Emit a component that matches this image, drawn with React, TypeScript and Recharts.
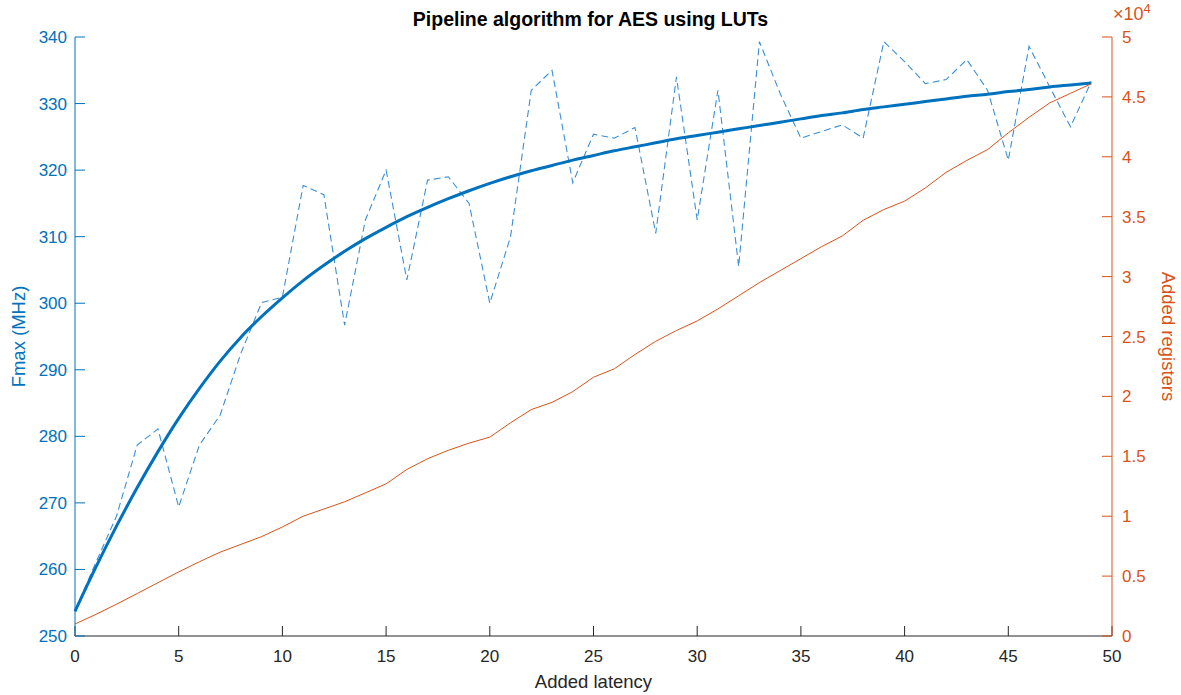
import React from 'react'
import { LineChart, Line, XAxis, YAxis, Label } from 'recharts'

// added latency (pipeline stages)
const latency = [
  0, 1, 2, 3, 4, 5, 6, 7, 8, 9, 10, 11, 12, 13, 14, 15, 16, 17, 18, 19, 20, 21, 22, 23, 24,
  25, 26, 27, 28, 29, 30, 31, 32, 33, 34, 35, 36, 37, 38, 39, 40, 41, 42, 43, 44, 45, 46, 47, 48, 49,
]

// measured Fmax (MHz)
const fmaxMeasured = [
  253.8, 261, 268, 278.7, 281.1, 269.4, 278.7, 283.2, 292.5, 300.1,
  300.9, 317.7, 316.3, 296.7, 312.5, 320, 303.5, 318.5, 319, 315,
  300, 310, 332, 335, 318.1, 325.4, 324.8, 326.4, 310.5, 334,
  312.5, 332, 305.5, 339.3, 331.5, 324.8, 325.8, 326.8, 324.8, 339.3,
  336.3, 333, 333.6, 336.6, 332, 321.5, 338.6, 332.5, 326.5, 333.3,
]

// fitted Fmax trend (MHz)
const fmaxFit = [
  253.7, 260.3, 266.5, 272.3, 277.7, 282.7, 287.2, 291.3, 294.9, 298.0,
  300.8, 303.4, 305.7, 307.8, 309.7, 311.4, 313.0, 314.4, 315.7, 316.9,
  318.0, 319.0, 319.9, 320.7, 321.5, 322.2, 322.9, 323.5, 324.1, 324.7,
  325.2, 325.7, 326.2, 326.7, 327.2, 327.7, 328.2, 328.6, 329.1, 329.5,
  329.9, 330.3, 330.7, 331.1, 331.4, 331.8, 332.1, 332.5, 332.8, 333.1,
]

// added registers
const registers = [
  1000, 1800, 2650, 3550, 4450, 5350, 6200, 7000, 7650, 8300,
  9100, 10000, 10600, 11200, 11950, 12700, 13900, 14800, 15500, 16100,
  16600, 17800, 18900, 19500, 20400, 21600, 22300, 23500, 24600, 25500,
  26300, 27300, 28400, 29500, 30500, 31500, 32500, 33400, 34700, 35600,
  36300, 37400, 38700, 39700, 40600, 42000, 43300, 44500, 45300, 46100,
]

const xTicks = [0, 5, 10, 15, 20, 25, 30, 35, 40, 45, 50]
const fmaxTicks = [250, 260, 270, 280, 290, 300, 310, 320, 330, 340]
const regTicks = [0, 5000, 10000, 15000, 20000, 25000, 30000, 35000, 40000, 45000, 50000]

const data = latency.map((x, i) => ({
  x,
  measured: fmaxMeasured[i],
  fit: fmaxFit[i],
  regs: registers[i],
}))

const BLUE = '#0072BD'
const ORANGE = '#D95319'
const DARK = '#262626'
const FONT = '"Liberation Sans", Arial, sans-serif'

export default function App() {
  return (
    <div style={{ position: 'absolute', left: 0, top: 0, width: 1181, height: 695, background: '#fff', fontFamily: FONT }}>
      <LineChart width={1181} height={695} data={data} margin={{ top: 37, right: 9, left: 15, bottom: 9 }}>
        <XAxis
          dataKey="x"
          type="number"
          domain={[0, 50]}
          ticks={xTicks}
          interval={0}
          height={50}
          stroke={DARK}
          tickSize={-10}
          tickMargin={24}
          tick={{ fill: DARK, fontSize: 17, fontFamily: FONT }}
        >
          <Label value="Added latency" position="insideBottom" offset={-2} fill={DARK} fontSize={18.5} fontFamily={FONT} />
        </XAxis>
        <YAxis
          yAxisId="left"
          orientation="left"
          domain={[250, 340]}
          ticks={fmaxTicks}
          interval={0}
          width={60}
          stroke={BLUE}
          tickSize={-10}
          tickMargin={18}
          tick={{ fill: BLUE, fontSize: 17, fontFamily: FONT }}
        >
          <Label value="Fmax (MHz)" angle={-90} position="insideLeft" offset={3} fill={BLUE} fontSize={18.5} fontFamily={FONT} style={{ textAnchor: 'middle' }} />
        </YAxis>
        <YAxis
          yAxisId="right"
          orientation="right"
          domain={[0, 50000]}
          ticks={regTicks}
          interval={0}
          width={60}
          stroke={ORANGE}
          tickSize={-10}
          tickMargin={20}
          tickFormatter={(v: number) => String(v / 10000)}
          tick={{ fill: ORANGE, fontSize: 17, fontFamily: FONT }}
        >
          <Label value="Added registers" angle={90} position="insideRight" offset={3} fill={ORANGE} fontSize={18.5} fontFamily={FONT} style={{ textAnchor: 'middle' }} />
        </YAxis>
        <Line yAxisId="left" dataKey="measured" stroke="#3b8fd3" strokeWidth={1.1} strokeDasharray="7 4" dot={false} isAnimationActive={false} />
        <Line yAxisId="left" dataKey="fit" stroke={BLUE} strokeWidth={3} dot={false} isAnimationActive={false} type="monotone" />
        <Line yAxisId="right" dataKey="regs" stroke={ORANGE} strokeWidth={1} dot={false} isAnimationActive={false} />
      </LineChart>
      <div style={{ position: 'absolute', left: 0, width: 1181, top: 8, textAlign: 'center', fontWeight: 'bold', fontSize: 19.5, color: '#000' }}>
        Pipeline algorithm for AES using LUTs
      </div>
      <div style={{ position: 'absolute', left: 1113, top: 1, fontSize: 18, color: ORANGE }}>
        ×10<sup style={{ fontSize: 13 }}>4</sup>
      </div>
    </div>
  )
}
